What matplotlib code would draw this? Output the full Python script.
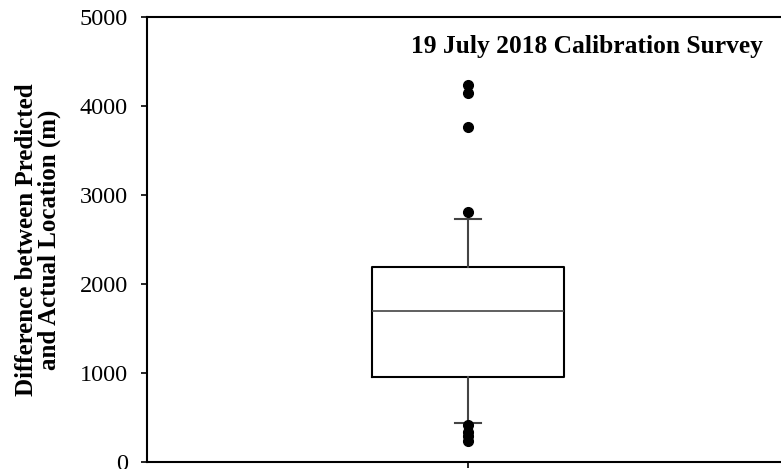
import matplotlib

matplotlib.use("Agg")
import matplotlib.pyplot as plt

# Box statistics (metres)
q1 = 955
median = 1697
q3 = 2191
whisker_low = 438
whisker_high = 2730
outliers = [4236, 4146, 3764, 2809, 410, 340, 290, 240]

y_ticks = [0, 1000, 2000, 3000, 4000, 5000]
title = "19 July 2018 Calibration Survey"
y_label = "Difference between Predicted\nand Actual Location (m)"

plt.rcParams["font.family"] = ["Liberation Serif", "DejaVu Serif"]

fig = plt.figure(figsize=(7.81, 4.69), dpi=100)
ax = fig.add_axes([0.188, 0.015, 0.812, 0.949])

stats = [{
    "q1": q1, "med": median, "q3": q3,
    "whislo": whisker_low, "whishi": whisker_high,
    "fliers": outliers,
}]
ax.bxp(
    stats,
    positions=[1],
    widths=0.303,
    capwidths=0.041,
    boxprops=dict(color="black", linewidth=1.5),
    medianprops=dict(color="#444444", linewidth=1.2),
    whiskerprops=dict(color="#444444", linewidth=1.5),
    capprops=dict(color="#444444", linewidth=1.5),
    flierprops=dict(marker="o", markerfacecolor="black", markeredgecolor="black",
                    markersize=7),
)

ax.set_xlim(0.494, 1.494)
ax.set_ylim(0, 5000)
ax.set_yticks(y_ticks)
ax.set_xticks([1])
ax.set_xticklabels([""])
ax.tick_params(axis="both", direction="out", length=4.5, width=1.2, labelsize=17.5)
ax.tick_params(axis="y", pad=9)

for side in ("left", "top", "bottom"):
    ax.spines[side].set_linewidth(1.5)
ax.spines["right"].set_visible(False)

# y label placed by hand so it sits where the reference has it
fig.text(0.0487, 0.489, y_label, rotation=90, ha="center", va="center",
         multialignment="center", fontsize=18, fontweight="bold",
         linespacing=1.0)
ax.text(0.972, 0.933, title, transform=ax.transAxes, ha="right", va="center",
        fontsize=18.4, fontweight="bold")

fig.savefig("out.png", dpi=100)
